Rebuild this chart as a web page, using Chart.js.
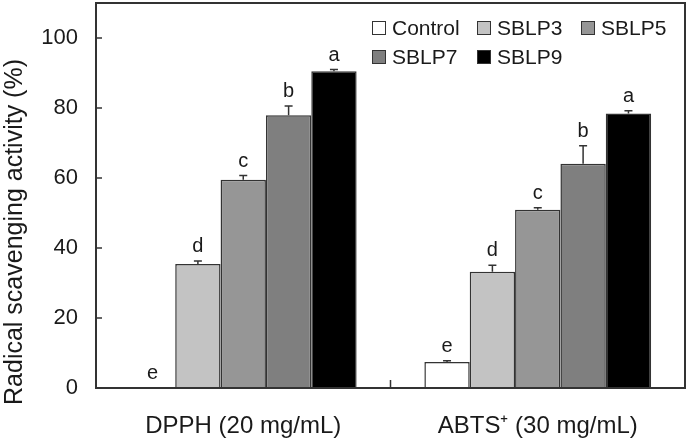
<!DOCTYPE html>
<html>
<head>
<meta charset="utf-8">
<script src="https://cdn.jsdelivr.net/npm/chart.js@4.4.0/dist/chart.umd.min.js"></script>
<style>
  html, body { margin: 0; padding: 0; background: #fff; }
  #wrap { width: 687px; height: 441px; position: relative; }
</style>
</head>
<body>
<div id="wrap"><canvas id="chart"></canvas></div>
<script>
// Data
const categories = ["DPPH (20 mg/mL)", "ABTS\u207A (30 mg/mL)"];
const seriesNames = ["Control", "SBLP3", "SBLP5", "SBLP7", "SBLP9"];
const seriesColors = ["#ffffff", "#c3c3c3", "#969696", "#7f7f7f", "#000000"];

const controlValues = [0, 7.4];
const sblp3Values = [35.4, 33.2];
const sblp5Values = [59.5, 50.9];
const sblp7Values = [77.9, 64.1];
const sblp9Values = [90.5, 78.4];

const controlErrors = [0, 0.4];
const sblp3Errors = [0.9, 1.9];
const sblp5Errors = [1.2, 0.6];
const sblp7Errors = [2.7, 5.1];
const sblp9Errors = [0.5, 0.8];

const controlLetters = ["e", "e"];
const sblp3Letters = ["d", "d"];
const sblp5Letters = ["c", "c"];
const sblp7Letters = ["b", "b"];
const sblp9Letters = ["a", "a"];

const yTicks = [0, 20, 40, 60, 80, 100];
const yTitle = "Radical scavenging activity (%)";

const allValues = [controlValues, sblp3Values, sblp5Values, sblp7Values, sblp9Values];
const allErrors = [controlErrors, sblp3Errors, sblp5Errors, sblp7Errors, sblp9Errors];
const allLetters = [controlLetters, sblp3Letters, sblp5Letters, sblp7Letters, sblp9Letters];

const FONT = "'Liberation Sans', Arial, sans-serif";
const INK = "#1a1a1a";

// Frame, inward ticks, error bars, letters, y title and legend
const decorPlugin = {
  id: "decor",
  afterDatasetsDraw(chart) {
    const ctx = chart.ctx;
    const area = chart.chartArea;
    const yScale = chart.scales.y;
    const xScale = chart.scales.x;

    ctx.save();

    // error bars + letters
    ctx.strokeStyle = "#333";
    ctx.lineWidth = 1.5;
    ctx.fillStyle = INK;
    ctx.font = "20px " + FONT;
    ctx.textAlign = "center";
    ctx.textBaseline = "alphabetic";
    chart.data.datasets.forEach((ds, di) => {
      const meta = chart.getDatasetMeta(di);
      meta.data.forEach((bar, i) => {
        const v = ds.data[i];
        const err = allErrors[di][i];
        const yTop = yScale.getPixelForValue(v + err);
        const yBase = yScale.getPixelForValue(v);
        ctx.beginPath();
        ctx.moveTo(bar.x, yBase);
        ctx.lineTo(bar.x, yTop);
        ctx.moveTo(bar.x - 4, yTop);
        ctx.lineTo(bar.x + 4, yTop);
        ctx.stroke();
        ctx.fillText(allLetters[di][i], bar.x, yTop - 9);
      });
    });

    // frame
    ctx.strokeStyle = "#333";
    ctx.lineWidth = 2;
    ctx.strokeRect(area.left, area.top, area.right - area.left, area.bottom - area.top);

    // inward y ticks
    ctx.lineWidth = 1.5;
    ctx.beginPath();
    yScale.ticks.forEach((t) => {
      const py = yScale.getPixelForValue(t.value);
      ctx.moveTo(area.left, py);
      ctx.lineTo(area.left + 6, py);
    });
    // inward x tick between categories
    for (let i = 1; i < categories.length; i++) {
      const px = (xScale.getPixelForValue(i - 1) + xScale.getPixelForValue(i)) / 2;
      ctx.moveTo(px, area.bottom);
      ctx.lineTo(px, area.bottom - 8);
    }
    ctx.stroke();

    // y axis title (sits lower than the plot centre in the original)
    ctx.save();
    ctx.translate(15, 232);
    ctx.rotate(-Math.PI / 2);
    ctx.font = "25px " + FONT;
    ctx.fillStyle = INK;
    ctx.textAlign = "center";
    ctx.textBaseline = "middle";
    ctx.fillText(yTitle, 0, 0);
    ctx.restore();

    // legend, two rows inside the plot
    const legendCols = [372, 477, 581];
    const legendRows = [28, 57];
    ctx.font = "21px " + FONT;
    ctx.textAlign = "left";
    ctx.textBaseline = "middle";
    chart.data.datasets.forEach((ds, di) => {
      const lx = legendCols[di % 3];
      const ly = legendRows[Math.floor(di / 3)];
      ctx.fillStyle = ds.backgroundColor;
      ctx.fillRect(lx, ly - 7, 14, 14);
      ctx.strokeStyle = "#333";
      ctx.lineWidth = 1;
      ctx.strokeRect(lx + 0.5, ly - 6.5, 13, 13);
      ctx.fillStyle = INK;
      ctx.fillText(ds.label, lx + 20, ly + 1);
    });

    ctx.restore();
  },
};

const datasets = seriesNames.map((name, i) => ({
  label: name,
  data: allValues[i],
  backgroundColor: seriesColors[i],
  borderColor: "#333",
  borderWidth: 1.5,
  borderSkipped: "bottom",
  categoryPercentage: 0.77,
  barPercentage: 1.0,
}));

new Chart(document.getElementById("chart"), {
  type: "bar",
  data: { labels: categories, datasets: datasets },
  options: {
    responsive: true,
    maintainAspectRatio: false,
    animation: false,
    layout: { padding: { top: 3, right: 2, left: 0, bottom: 0 } },
    plugins: {
      legend: { display: false },
      tooltip: { enabled: false },
    },
    scales: {
      x: {
        grid: { display: false, drawTicks: false },
        border: { display: false },
        ticks: {
          color: INK,
          font: { family: FONT, size: 24 },
          padding: 24,
        },
        afterFit: (scale) => {
          scale.height = 53;
          scale.paddingLeft = 0;
          scale.paddingRight = 0;
        },
      },
      y: {
        min: 0,
        max: 110,
        grid: { display: false, drawTicks: false },
        border: { display: false },
        ticks: {
          stepSize: 20,
          color: INK,
          font: { family: FONT, size: 22 },
          padding: 18,
        },
        afterBuildTicks: (scale) => {
          scale.ticks = yTicks.map((v) => ({ value: v }));
        },
        afterFit: (scale) => {
          scale.width = 96;
          scale.paddingTop = 0;
          scale.paddingBottom = 0;
        },
      },
    },
  },
  plugins: [decorPlugin],
});
</script>
</body>
</html>
